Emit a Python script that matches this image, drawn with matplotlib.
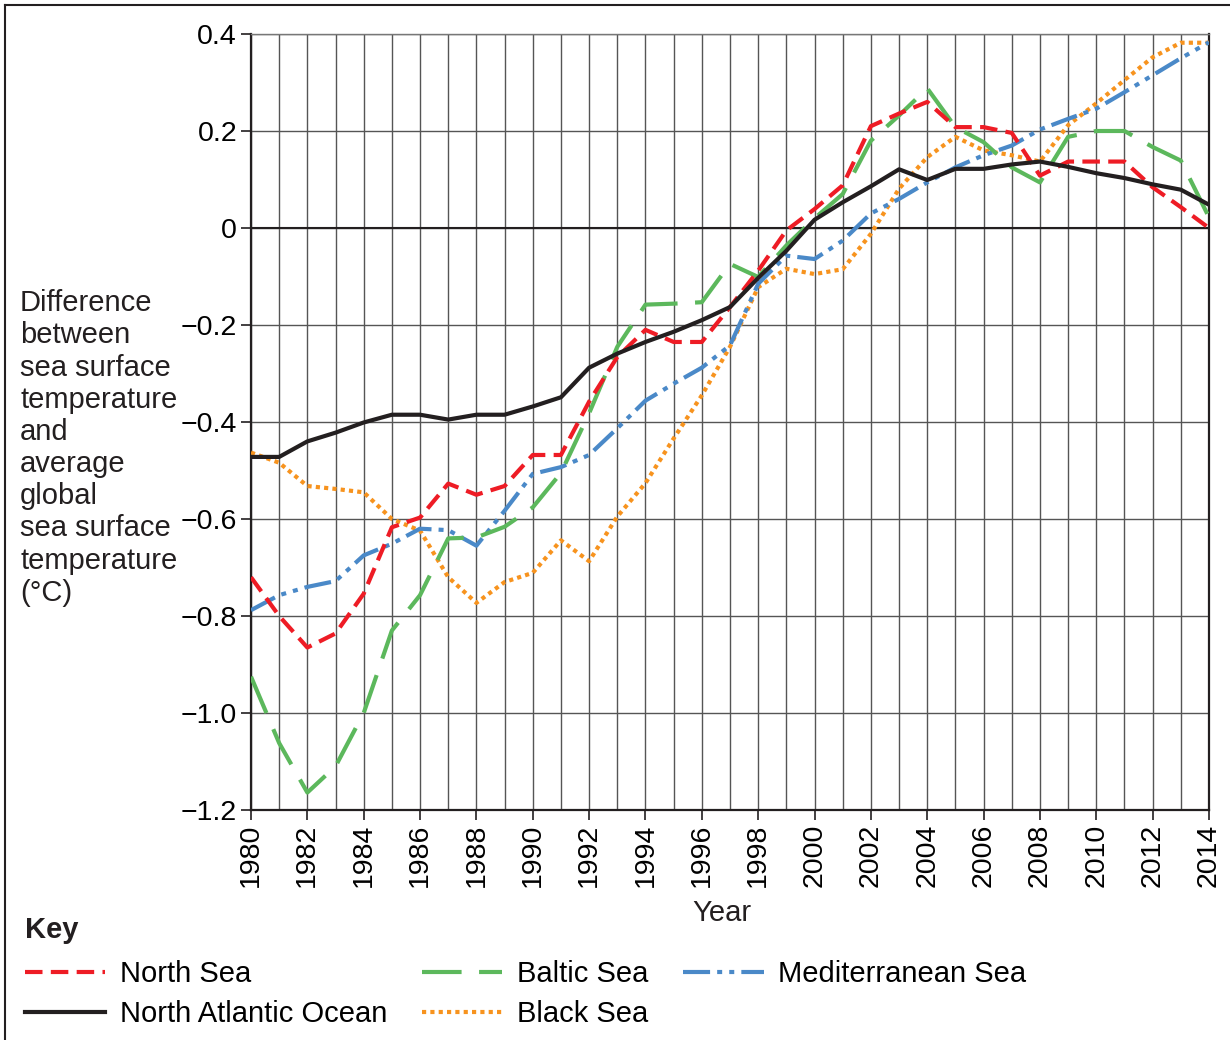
import numpy as np
import matplotlib
matplotlib.use("Agg")
import matplotlib.pyplot as plt
from matplotlib.lines import Line2D

plt.rcParams['font.family'] = ['Liberation Sans', 'DejaVu Sans']

years = list(range(1980, 2015))

north_sea = [-0.72, -0.80, -0.865, -0.836, -0.754, -0.617, -0.597, -0.527, -0.55, -0.532,
             -0.468, -0.468, -0.358, -0.266, -0.21, -0.235, -0.235, -0.163, -0.088, -0.005,
             0.039, 0.088, 0.21, 0.236, 0.26, 0.208, 0.208, 0.196, 0.108, 0.137,
             0.137, 0.137, 0.084, 0.043, 0.0]
north_atlantic = [-0.472, -0.472, -0.44, -0.422, -0.401, -0.385, -0.385, -0.395, -0.385, -0.385,
                  -0.368, -0.349, -0.288, -0.259, -0.235, -0.214, -0.19, -0.163, -0.103, -0.047,
                  0.017, 0.053, 0.086, 0.121, 0.099, 0.122, 0.122, 0.131, 0.137, 0.126,
                  0.113, 0.103, 0.09, 0.079, 0.048]
baltic = [-0.925, -1.062, -1.164, -1.11, -1.0, -0.83, -0.757, -0.64, -0.638, -0.616,
          -0.576, -0.505, -0.382, -0.245, -0.158, -0.156, -0.153, -0.074, -0.101, -0.036,
          0.02, 0.07, 0.18, 0.232, 0.288, 0.208, 0.177, 0.125, 0.094, 0.188,
          0.2, 0.2, 0.167, 0.139, 0.022]
black_sea = [-0.463, -0.484, -0.532, -0.538, -0.545, -0.6, -0.624, -0.72, -0.773, -0.73,
             -0.711, -0.644, -0.687, -0.595, -0.526, -0.434, -0.345, -0.245, -0.122, -0.084,
             -0.095, -0.085, -0.012, 0.081, 0.146, 0.188, 0.16, 0.15, 0.137, 0.212,
             0.257, 0.305, 0.352, 0.382, 0.382]
mediterranean = [-0.788, -0.757, -0.74, -0.728, -0.675, -0.651, -0.62, -0.623, -0.655, -0.583,
                 -0.507, -0.493, -0.468, -0.413, -0.356, -0.321, -0.288, -0.242, -0.115, -0.057,
                 -0.064, -0.026, 0.03, 0.06, 0.094, 0.125, 0.15, 0.17, 0.203, 0.225,
                 0.246, 0.28, 0.315, 0.35, 0.383]

y_ticks = [-1.2, -1.0, -0.8, -0.6, -0.4, -0.2, 0, 0.2, 0.4]
y_ticklabels = ['\u22121.2', '\u22121.0', '\u22120.8', '\u22120.6', '\u22120.4', '\u22120.2', '0', '0.2', '0.4']
x_ticks = list(range(1980, 2015, 2))

fig = plt.figure(figsize=(12.3, 10.4), dpi=100)
ax = fig.add_axes([251/1230, 1 - 810/1040, (1209 - 251)/1230, (810 - 34)/1040])

lw = 3.0
ax.plot(years, black_sea, color='#f7931e', lw=lw, dashes=(1.0, 1.0), label='Black Sea', zorder=3)
ax.plot(years, mediterranean, color='#4a89c8', lw=lw, dashes=(6.5, 1.7, 1.2, 1.7, 1.2, 1.7),
        label='Mediterranean Sea', zorder=4)
ax.plot(years, baltic, color='#5cb85c', lw=lw, dashes=(9.5, 4.2), label='Baltic Sea', zorder=5)
ax.plot(years, north_sea, color='#ee1c25', lw=lw, dashes=(4.2, 2.0), label='North Sea', zorder=6)
ax.plot(years, north_atlantic, color='#231f20', lw=lw, label='North Atlantic Ocean', zorder=7)

ax.set_xlim(1980, 2014)
ax.set_ylim(-1.2, 0.4)
ax.set_xticks(x_ticks)
ax.set_xticklabels([str(y) for y in x_ticks], rotation=90)
ax.set_xticks(years, minor=True)
ax.set_yticks(y_ticks)
ax.set_yticklabels(y_ticklabels)
ax.tick_params(axis='both', labelsize=20.5, length=7, width=1.2, color='#231f20', pad=3)
ax.tick_params(axis='x', which='minor', length=0)
ax.grid(True, which='both', axis='x', color='#555555', lw=1.0)
ax.grid(True, which='major', axis='y', color='#555555', lw=1.0)
ax.set_axisbelow(True)
ax.axhline(0, color='#231f20', lw=1.5, zorder=2)
for side in ['left', 'bottom', 'right']:
    ax.spines[side].set_linewidth(1.6)
    ax.spines[side].set_color('#231f20')
ax.spines['top'].set_linewidth(1.0)
ax.spines['top'].set_color('#777777')

fig.text(20/1230, 1 - 448/1040,
         'Difference\nbetween\nsea surface\ntemperature\nand\naverage\nglobal\nsea surface\ntemperature\n(\u00b0C)',
         fontsize=21, ha='left', va='center', linespacing=1.19, color='#231f20')
fig.text(722/1230, 1 - 913/1040, 'Year', fontsize=21, ha='center', va='center', color='#231f20')
fig.text(25/1230, 1 - 930/1040, 'Key', fontsize=21, fontweight='bold', ha='left', va='center',
         color='#231f20')

h = {l.get_label(): l for l in ax.get_lines()}
order = ['North Sea', 'North Atlantic Ocean', 'Baltic Sea', 'Black Sea', 'Mediterranean Sea']
fig.legend([h[k] for k in order], order, loc='upper left',
           bbox_to_anchor=(25/1230, 1 - 960/1040), ncol=3, frameon=False, fontsize=21,
           handlelength=2.75, handletextpad=0.5, columnspacing=1.2, labelspacing=0.42,
           borderpad=0, borderaxespad=0)

fig.add_artist(Line2D([5/1230, 5/1230], [0, 1 - 5/1040], color='#231f20', lw=1.5,
                      transform=fig.transFigure))
fig.add_artist(Line2D([5/1230, 1], [1 - 5/1040, 1 - 5/1040], color='#231f20', lw=1.5,
                      transform=fig.transFigure))

fig.savefig('out.png', dpi=100)
